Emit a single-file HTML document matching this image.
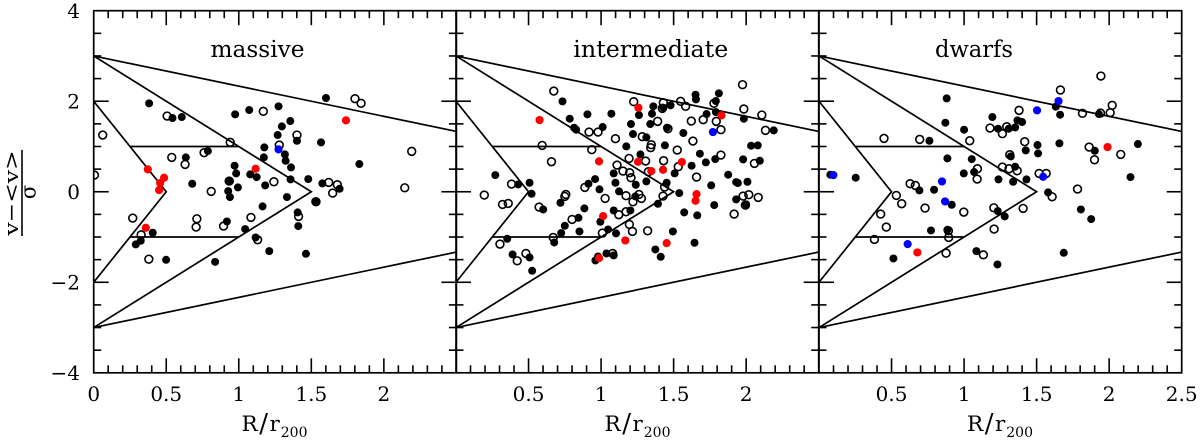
<!DOCTYPE html>
<html lang="en">
<head>
<meta charset="utf-8">
<title>Velocity versus radius phase-space diagram</title>
<style>
html,body{margin:0;padding:0;background:#fff;}
svg{display:block;}
text{font-family:"DejaVu Serif","Liberation Serif",serif;fill:#000;}
</style>
</head>
<body>
<svg id="chart" xmlns="http://www.w3.org/2000/svg" width="1200" height="443" viewBox="0 0 1200 443">
  <rect x="0" y="0" width="1200" height="443" fill="#fff"/>
  <defs>
    <clipPath id="clip-0"><rect x="93.7" y="10.7" width="362.6" height="362"/></clipPath>
    <clipPath id="clip-1"><rect x="456" y="10.7" width="362.8" height="362"/></clipPath>
    <clipPath id="clip-2"><rect x="819" y="10.7" width="362.7" height="362"/></clipPath>
  </defs>
  <g id="marks"></g>
  <text x="257.5" y="57" font-size="23" text-anchor="middle" textLength="94" lengthAdjust="spacingAndGlyphs">massive</text>
  <text x="650.8" y="57" font-size="23" text-anchor="middle" textLength="155" lengthAdjust="spacingAndGlyphs">intermediate</text>
  <text x="974" y="57" font-size="23" text-anchor="middle" textLength="78" lengthAdjust="spacingAndGlyphs">dwarfs</text>
  <text x="241.5" y="431" font-size="21.5">R<tspan font-size="26" dx="1.5" dy="1">/</tspan><tspan dx="1.5" dy="-1">r</tspan><tspan font-size="14" dx="1" dy="6">200</tspan></text>
  <text x="604.5" y="431" font-size="21.5">R<tspan font-size="26" dx="1.5" dy="1">/</tspan><tspan dx="1.5" dy="-1">r</tspan><tspan font-size="14" dx="1" dy="6">200</tspan></text>
  <text x="967" y="431" font-size="21.5">R<tspan font-size="26" dx="1.5" dy="1">/</tspan><tspan dx="1.5" dy="-1">r</tspan><tspan font-size="14" dx="1" dy="6">200</tspan></text>
  <g>
    <text transform="translate(18,193) rotate(-90)" font-size="20" text-anchor="middle" textLength="85" lengthAdjust="spacingAndGlyphs">v−&lt;v&gt;</text>
    <line x1="22" y1="150" x2="22" y2="236" stroke="#000" stroke-width="1.6"/>
    <text transform="translate(35.5,192) rotate(-90)" font-size="21" text-anchor="middle">σ</text>
  </g>
</svg>
<script>
// ---------- axis values ----------
const xRange = [0, 2.5];
const yRange = [-4, 4];
const yTickLabels = [4, 2, 0, -2, -4];
const xTickLabelsMassive = [0, 0.5, 1, 1.5, 2];
const xTickLabelsIntermediate = [0.5, 1, 1.5, 2];
const xTickLabelsDwarfs = [0.5, 1, 1.5, 2, 2.5];

// ---------- caustic / zone boundaries, in data units ----------
const zoneOuter = [[0, 3], [2.5, 1.333]];
const zoneOuterLow = [[0, -3], [2.5, -1.333]];
const zoneMiddle = [[0, 3], [1.5, 0], [0, -3]];
const zoneInner = [[0, 2], [0.5, 0], [0, -2]];
const zoneUpper = [[0.25, 1], [1, 1]];
const zoneLower = [[0.25, -1], [1, -1]];

// ---------- massive: [R/r200, (v-<v>)/sigma] ----------
const massiveFilled = [[.382,1.953],[.543,1.629],[.607,1.651],[.975,1.71],[1.072,1.805],[1.274,1.887],[1.355,1.562],[1.297,1.444],[1.268,1.253],[1.401,1.127],[1.567,1.091],[1.601,2.071],[1.176,.98],[1.173,.759],[1.318,.825],[1.323,.685],[1.36,.538],[.787,.899],[.635,.759],[.971,.575],[.982,.405],[1.079,.383],[1.123,.324],[.939,.236],[.679,.177],[.994,.096],[1.182,.14],[1.357,.273],[1.479,.28],[1.576,.184],[1.695,.066],[1.831,.612],[.927,.015],[.939,-.118],[1.332,-.118],[1.527,-.214],[1.164,-.324],[1.406,-.457],[1.41,-.759],[.918,-.656],[1.044,-.825],[.407,-.906],[.324,-1.083],[.29,-1.164],[.499,-1.503],[.837,-1.548],[1.116,-1.01],[1.21,-1.312],[1.463,-1.371]];
const massiveHollow = [[.062,1.253],[.005,.368],[.506,1.673],[1.169,1.776],[1.401,1.253],[1.279,1.032],[.941,1.091],[1.801,2.056],[1.843,1.953],[2.192,.892],[2.144,.088],[.538,.759],[.63,.604],[.761,.862],[.934,.236],[1.242,.221],[.81,.007],[1.62,.206],[1.679,.155],[1.647,-.029],[1.532,-.221],[.269,-.582],[.711,-.597],[1.412,-.545],[1.084,-.567],[.706,-.781],[.895,-.759],[.327,-.951],[.38,-1.489],[1.13,-1.061]];
const massiveRed = [[1.739,1.577],[1.116,.508],[.373,.494],[.485,.31],[.458,.192],[.451,.037],[.359,-.796]];
const massiveBlue = [[1.274,.936]];

// ---------- intermediate ----------
const intermediateFilled = [[.734,1.997],[.784,1.614],[.906,1.71],[1.071,1.724],[.814,1.415],[.828,1.371],[1.011,1.43],[1.261,1.695],[1.36,1.887],[1.351,1.724],[1.429,1.857],[1.479,1.909],[1.651,2.144],[1.654,2.041],[1.812,2.174],[1.791,2.004],[1.727,1.717],[1.791,1.761],[1.984,1.614],[2.19,1.356],[1.206,1.496],[1.339,1.496],[1.454,1.415],[1.567,1.297],[1.22,1.275],[1.312,1.201],[1.174,1.002],[1.44,1.024],[2.034,1.017],[2.08,1.024],[1.271,.825],[1.681,.84],[1.722,.648],[1.787,.722],[1.979,.715],[2.094,.685],[1.624,.575],[1.507,.405],[1.087,.405],[1.876,.376],[.271,.368],[.959,.28],[1.312,.228],[1.452,.199],[1.099,.199],[1.239,.155],[.507,.199],[.429,.162],[.913,.177],[1.931,.214],[1.943,.192],[2.009,.221],[1.759,.14],[.989,.052],[1.124,.007],[.521,-.044],[1.539,-.029],[1.236,-.103],[1.931,-.169],[1.392,-.265],[.72,-.243],[1.78,-.295],[2,-.28],[.885,-.368],[.601,-.391],[1.087,-.413],[1.202,-.413],[1.573,-.457],[1.663,-.523],[.844,-.575],[.995,-.663],[.75,-.752],[1.048,-.833],[.851,-.877],[.725,-.914],[1.103,-.921],[1.495,-.877],[.353,-1.039],[.677,-1.12],[1.644,-1.127],[1.374,-1.275],[.39,-1.385],[.507,-1.452],[1.411,-1.437],[1.037,-1.363],[1.087,-1.407],[.979,-1.43],[.961,-1.518],[.525,-1.746]];
const intermediateHollow = [[.674,2.225],[1.225,1.99],[1.429,1.968],[1.548,1.997],[1.583,1.887],[1.778,1.953],[1.422,1.842],[1.975,2.366],[1.984,1.828],[2.108,1.695],[2.133,1.356],[1.704,1.592],[1.622,1.562],[1.794,1.555],[1.826,1.371],[1.39,1.555],[.917,1.319],[.979,1.319],[1.099,1.172],[1.284,1.216],[1.461,1.393],[1.633,1.12],[1.346,1.039],[1.342,.973],[1.525,.921],[.594,1.024],[.936,.929],[.658,.663],[1.193,.737],[1.307,.678],[1.431,.685],[1.826,.811],[1.532,.553],[2.057,.626],[1.11,.59],[1.151,.457],[1.197,.42],[1.206,.31],[1.326,.442],[1.658,.324],[.383,.169],[.888,.096],[1.438,.103],[.195,-.074],[.757,-.059],[.75,-.103],[1.172,-.088],[1.261,-.059],[1.278,-.147],[1.427,-.096],[1.028,-.147],[1.22,-.221],[1.979,-.096],[2.018,-.066],[2.083,-.125],[.321,-.28],[.36,-.258],[.573,-.339],[1.995,-.295],[1.172,-.442],[1.122,-.508],[1.917,-.494],[.8,-.612],[1.195,-.722],[1.216,-.877],[1.321,-.862],[1.009,-.914],[.67,-1.01],[.303,-1.157],[.482,-1.363],[.422,-1.525],[1.08,-1.363]];
const intermediateRed = [[.576,1.584],[1.257,1.857],[1.83,1.688],[.986,.671],[1.255,.663],[1.557,.656],[1.346,.457],[1.427,.486],[1.658,-.052],[1.651,-.199],[1.014,-.538],[1.167,-1.076],[1.452,-1.135],[.986,-1.466]];
const intermediateBlue = [[1.771,1.319]];

// ---------- dwarfs ----------
const dwarfsFilled = [[.88,2.063],[.871,1.525],[1.195,1.651],[1,1.371],[1.234,1.393],[1.308,1.393],[1.352,1.422],[1.368,1.577],[1.4,1.54],[1.632,1.879],[1.662,1.702],[1.929,1.717],[.761,1.127],[1.657,1.069],[2.198,1.054],[1.506,1.032],[1.425,.914],[1.51,.847],[1.901,.906],[1.322,.781],[.885,.737],[1.053,.722],[1.352,.553],[.998,.405],[1.069,.435],[2.147,.324],[.253,.31],[.078,.376],[1.237,.273],[1.338,.221],[1.43,.273],[.692,.029],[.793,.044],[1.579,-.015],[.915,-.287],[1.805,-.391],[1.876,-.604],[1.232,-.427],[1.28,-.545],[.772,-.855],[.885,-.84],[.513,-1.474],[1.085,-1.312],[1.23,-1.606],[1.687,-1.349]];
const dwarfsHollow = [[1.943,2.557],[1.664,2.248],[1.379,1.798],[2.021,1.909],[2.007,1.746],[1.94,1.739],[1.816,1.732],[1.179,1.408],[1.294,1.437],[1.264,1.282],[.448,1.179],[.694,1.157],[1.039,1.127],[1.418,1.105],[1.862,.987],[2.08,.825],[1.899,.707],[1.315,.818],[1.092,.508],[1.264,.545],[1.31,.508],[1.366,.464],[1.517,.405],[1.566,.405],[1.09,.28],[.628,.177],[.664,.14],[1.782,.059],[.533,-.081],[1.607,-.111],[.57,-.265],[.731,-.361],[.998,-.45],[1.205,-.354],[1.407,-.368],[.425,-.494],[.464,-.781],[1.207,-.825],[.892,-.862],[.894,-1.01],[.382,-1.054],[.876,-1.356],[1.133,-1.393]];
const dwarfsRed = [[1.989,.987],[.678,-1.341]];
const dwarfsBlue = [[.099,.368],[.848,.228],[.869,-.214],[1.545,.332],[1.503,1.798],[1.651,2.004],[.611,-1.157]];

// ---------- layout ----------
const SVG_NS = 'http://www.w3.org/2000/svg';
const plotTop = 10.7, plotBottom = 372.8, plotWidth = 362.7;
const panels = [
  { id: 'massive', left: 93.7, xLabels: xTickLabelsMassive, filled: massiveFilled, hollow: massiveHollow, red: massiveRed, blue: massiveBlue },
  { id: 'intermediate', left: 456, xLabels: xTickLabelsIntermediate, filled: intermediateFilled, hollow: intermediateHollow, red: intermediateRed, blue: intermediateBlue },
  { id: 'dwarfs', left: 819, xLabels: xTickLabelsDwarfs, filled: dwarfsFilled, hollow: dwarfsHollow, red: dwarfsRed, blue: dwarfsBlue }
];
const zones = [zoneOuter, zoneOuterLow, zoneMiddle, zoneInner, zoneUpper, zoneLower];
const root = document.getElementById('marks');

function xScale(panel, value) {
  return panel.left + (value - xRange[0]) / (xRange[1] - xRange[0]) * plotWidth;
}
function yScale(value) {
  return plotBottom - (value - yRange[0]) / (yRange[1] - yRange[0]) * (plotBottom - plotTop);
}
function make(tag, attrs, parent) {
  const el = document.createElementNS(SVG_NS, tag);
  for (const key in attrs) el.setAttribute(key, attrs[key]);
  parent.appendChild(el);
  return el;
}
function tickLine(x1, y1, x2, y2, parent, name) {
  const el = make('line', { x1: x1, y1: y1, x2: x2, y2: y2, stroke: '#000', 'stroke-width': 1.6 }, parent);
  
  
}
function drawPoints(panel, points, style, name, parent) {
  points.forEach(function (p) {
    const dot = make('circle', { cx: xScale(panel, p[0]), cy: yScale(p[1]), r: style.r, fill: style.fill, stroke: style.stroke, 'stroke-width': style.sw }, parent);
    
    
  });
}

panels.forEach(function (panel, index) {
  const group = make('g', {}, root);
  
  

  // zone lines
  zones.forEach(function (zone) {
    const pts = zone.map(function (p) { return xScale(panel, p[0]) + ',' + yScale(p[1]); }).join(' ');
    const line = make('polyline', { points: pts, fill: 'none', stroke: '#000', 'stroke-width': 1.7, 'stroke-linejoin': 'miter' }, group);
    
    
  });

  // points
  const dots = make('g', { 'clip-path': 'url(#clip-' + index + ')' }, group);
  
  
  drawPoints(panel, panel.hollow, { r: 3.9, fill: 'none', stroke: '#000', sw: 1.6 }, 'open-point', dots);
  drawPoints(panel, panel.filled, { r: 4, fill: '#000', stroke: 'none', sw: 0 }, 'filled-point', dots);
  drawPoints(panel, panel.red, { r: 4.1, fill: '#f00', stroke: 'none', sw: 0 }, 'red-point', dots);
  drawPoints(panel, panel.blue, { r: 4.1, fill: '#00f', stroke: 'none', sw: 0 }, 'blue-point', dots);

  // frame
  const frame = make('rect', { x: panel.left, y: plotTop, width: plotWidth, height: plotBottom - plotTop, fill: 'none', stroke: '#000', 'stroke-width': 1.7 }, group);
  
  

  // x ticks: minor every 0.1, major every 0.5
  for (let i = 1; i < 25; i++) {
    const x = xScale(panel, i / 10);
    const len = i % 5 === 0 ? 14.5 : 7.5;
    tickLine(x, plotBottom, x, plotBottom - len, group, 'x-tick-bottom');
    tickLine(x, plotTop, x, plotTop + len, group, 'x-tick-top');
  }
  // y ticks: minor every 0.5, major every 2
  for (let i = -7; i <= 7; i++) {
    const y = yScale(i / 2);
    const len = i % 4 === 0 ? 15 : 7.5;
    tickLine(panel.left, y, panel.left + len, y, group, 'y-tick-left');
    tickLine(panel.left + plotWidth, y, panel.left + plotWidth - len, y, group, 'y-tick-right');
  }

  // x tick labels
  panel.xLabels.forEach(function (value) {
    const label = make('text', { x: xScale(panel, value), y: 401, 'font-size': 20, 'text-anchor': 'middle' }, group);
    
    
    label.textContent = String(value);
  });
});

// y tick labels
yTickLabels.forEach(function (value) {
  const label = make('text', { x: 80, y: yScale(value) + 7.3, 'font-size': 20, 'text-anchor': 'end' }, root);
  
  
  label.textContent = String(value).replace('-', '\u2212');
});
</script>
</body>
</html>
